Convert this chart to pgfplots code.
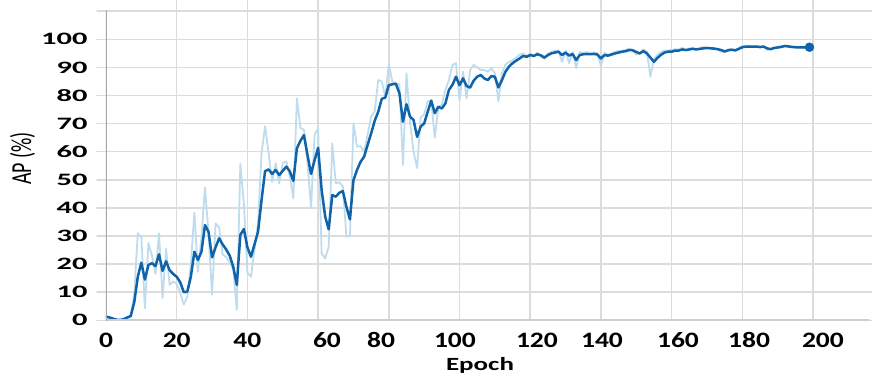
\documentclass[border=0pt]{standalone}
\usepackage{fontspec}
\setmainfont{Carlito}
\newfontfamily\yfont{Carlito}[FakeStretch=1.75]
\newfontfamily\xfont{Carlito}[FakeStretch=1.25]
\newfontfamily\lfont{Carlito}[FakeStretch=1.45]
\usepackage{graphicx}
\usepackage{pgfplots}
\pgfplotsset{compat=1.18}

\definecolor{rawblue}{HTML}{BFDCEF}
\definecolor{smblue}{HTML}{1063A8}
\definecolor{gridgray}{HTML}{DCDCDC}
\definecolor{axisgray}{HTML}{A6A6A6}
\definecolor{basegray}{HTML}{CFCFCF}

\begin{document}
\begin{tikzpicture}
\useasboundingbox (-106pt,-57.7pt) rectangle (766pt,320.3pt);
\begin{axis}[
  at={(0,0)}, anchor=south west,
  scale only axis, width=763.6pt, height=320.3pt,
  xmin=0, xmax=216, ymin=0, ymax=114,
  axis line style={draw=none},
  /pgf/number format/assume math mode=true,
  ytick={0,10,20,30,40,50,60,70,80,90,100,110},
  yticklabels={0,10,20,30,40,50,60,70,80,90,100,{}},
  xtick={0,20,40,62.5,77.8,98.7,121.9,140.3,161.8,181.9,202.8},
  xticklabels={0,20,40,60,80,100,120,140,160,180,200},
  extra x ticks={20,40,60,80,100,120,140,160,180,200},
  extra x tick labels={},
  extra x tick style={grid=major, xtick style={draw=none}},
  ymajorgrids, xmajorgrids=false,
  major grid style={draw=gridgray, line width=1.5pt},
  tick align=outside, major tick length=9pt,
  ytick style={draw=gridgray, line width=1.5pt},
  xtick style={draw=none},
  yticklabel style={font=\yfont\bfseries\fontsize{17.4}{18}\selectfont, text=black, anchor=east, xshift=-6pt},
  xticklabel style={font=\xfont\bfseries\fontsize{22}{24}\selectfont, text=black, anchor=base, yshift=-18pt},
  xlabel={Epoch},
  xlabel style={font=\lfont\bfseries\fontsize{18.6}{20}\selectfont, text=black,
    at={(axis description cs:0.4898,-0.158)}, anchor=base},
  ylabel={\scalebox{1}[1.45]{AP (\%)}},
  ylabel style={font=\fontsize{20}{22}\selectfont, text=black,
    at={(axis description cs:-0.1094,0.505)}, anchor=center, rotate=0},
  line join=round, line cap=round,
]
% raw per-epoch AP
\addplot[rawblue, line width=1.8pt] coordinates {
(0,1.3)(1,1.0)(2,0.5)(3,0.1)(4,0.0)(5,0.3)(6,1.0)(7,1.5)(8,9.7)(9,31.0)
(10,29.5)(11,4.3)(12,27.5)(13,23.0)(14,16.5)(15,31.0)(16,7.9)(17,25.5)(18,12.6)(19,13.9)
(20,13.0)(21,9.7)(22,5.6)(23,8.4)(24,20.0)(25,38.3)(26,17.3)(27,29.6)(28,47.3)(29,31.0)
(30,9.1)(31,34.5)(32,33.0)(33,23.4)(34,22.5)(35,20.5)(36,18.1)(37,3.7)(38,55.6)(39,41.6)
(40,17.0)(41,15.5)(42,25.0)(43,34.7)(44,59.4)(45,69.1)(46,59.4)(47,49.2)(48,55.9)(49,48.7)
(50,56.0)(51,56.6)(52,51.2)(53,43.4)(54,79.0)(55,68.4)(56,67.8)(57,56.0)(58,39.9)(59,66.0)
(60,68.4)(61,23.8)(62,22.0)(63,26.2)(64,63.0)(65,48.8)(66,49.1)(67,47.6)(68,29.8)(69,30.0)
(70,70.1)(71,61.8)(72,62.0)(73,60.0)(74,66.0)(75,72.5)(76,74.3)(77,85.5)(78,85.0)(79,79.6)
(80,91.2)(81,85.0)(82,84.3)(83,84.0)(84,55.3)(85,87.9)(86,70.6)(87,60.0)(88,54.2)(89,72.1)
(90,73.3)(91,78.0)(92,78.0)(93,65.0)(94,75.7)(95,76.9)(96,82.0)(97,85.5)(98,90.9)(99,91.5)
(100,78.3)(101,88.5)(102,79.0)(103,89.1)(104,90.9)(105,90.0)(106,89.1)(107,89.1)(108,88.5)(109,89.7)
(110,88.0)(111,77.9)(112,88.0)(113,91.0)(114,92.0)(115,92.5)(116,93.5)(117,94.5)(118,95.0)(119,94.0)
(120,95.0)(121,94.0)(122,95.2)(123,94.0)(124,93.0)(125,95.0)(126,95.5)(127,96.0)(128,96.0)(129,92.0)
(130,96.0)(131,91.5)(132,95.5)(133,89.7)(134,95.5)(135,95.0)(136,95.5)(137,95.0)(138,95.3)(139,95.0)
(140,90.5)(141,95.3)(142,94.5)(143,95.0)(144,95.5)(145,95.8)(146,96.0)(147,96.2)(148,96.8)(149,96.0)
(150,94.5)(151,95.0)(152,96.5)(153,95.5)(154,86.7)(155,93.0)(156,94.5)(157,95.5)(158,96.0)(159,96.0)
(160,96.2)(161,96.5)(162,96.3)(163,97.0)(164,96.0)(165,96.8)(166,97.0)(167,96.5)(168,97.0)(169,97.2)
(170,97.2)(171,96.8)(172,97.0)(173,96.3)(174,95.6)(175,95.5)(176,96.5)(177,96.5)(178,95.8)(179,97.0)
(180,97.6)(181,97.5)(182,97.6)(183,97.3)(184,97.6)(185,97.0)(186,97.6)(187,96.3)(188,96.5)(189,97.2)
(190,97.3)(191,97.5)(192,97.8)(193,97.3)(194,97.2)(195,97.0)(196,97.2)(197,97.0)(198,97.1)(199,97.2)
};
% smoothed AP
\addplot[smblue, line width=2.5pt] coordinates {
(0,1.3)(1,1.0)(2,0.6)(3,0.2)(4,0.1)(5,0.4)(6,1.0)(7,1.5)(8,6.5)(9,15.5)
(10,20.5)(11,14.5)(12,19.7)(13,20.3)(14,19.3)(15,23.5)(16,17.6)(17,21.0)(18,17.8)(19,16.5)
(20,15.5)(21,13.5)(22,10.0)(23,10.2)(24,15.5)(25,24.4)(26,21.5)(27,24.4)(28,33.9)(29,31.5)
(30,22.4)(31,26.0)(32,29.2)(33,27.0)(34,25.2)(35,23.0)(36,19.0)(37,12.6)(38,30.4)(39,32.5)
(40,26.0)(41,22.6)(42,27.0)(43,31.5)(44,42.8)(45,53.1)(46,53.7)(47,52.1)(48,53.5)(49,51.7)
(50,53.2)(51,54.7)(52,53.0)(53,49.6)(54,61.2)(55,63.9)(56,65.9)(57,58.8)(58,52.1)(59,57.0)
(60,61.4)(61,46.4)(62,36.9)(63,32.4)(64,44.6)(65,44.0)(66,45.4)(67,46.0)(68,40.4)(69,35.9)
(70,49.9)(71,53.5)(72,56.4)(73,58.2)(74,62.4)(75,66.5)(76,71.0)(77,74.2)(78,78.8)(79,79.3)
(80,83.7)(81,84.0)(82,84.2)(83,80.8)(84,70.7)(85,76.9)(86,72.5)(87,71.3)(88,65.3)(89,68.9)
(90,70.1)(91,74.2)(92,78.2)(93,73.7)(94,76.0)(95,75.4)(96,77.2)(97,82.0)(98,83.8)(99,86.7)
(100,83.7)(101,86.1)(102,83.4)(103,82.8)(104,85.3)(105,86.7)(106,87.3)(107,86.1)(108,85.5)(109,86.9)
(110,86.7)(111,82.9)(112,85.5)(113,88.5)(114,90.3)(115,91.5)(116,92.4)(117,93.2)(118,94.1)(119,93.8)
(120,94.4)(121,94.1)(122,94.7)(123,94.3)(124,93.5)(125,94.4)(126,95.0)(127,95.3)(128,95.6)(129,94.4)
(130,95.3)(131,94.2)(132,94.8)(133,92.6)(134,94.4)(135,94.7)(136,94.7)(137,94.7)(138,94.8)(139,94.6)
(140,93.2)(141,94.4)(142,94.2)(143,94.6)(144,95.0)(145,95.3)(146,95.6)(147,95.8)(148,96.2)(149,96.1)
(150,95.5)(151,95.0)(152,95.8)(153,95.0)(154,93.5)(155,92.0)(156,93.4)(157,94.5)(158,95.3)(159,95.6)
(160,95.6)(161,96.0)(162,96.0)(163,96.4)(164,96.2)(165,96.4)(166,96.6)(167,96.4)(168,96.6)(169,96.8)
(170,96.9)(171,96.8)(172,96.7)(173,96.5)(174,96.2)(175,95.7)(176,96.1)(177,96.3)(178,96.1)(179,96.6)
(180,97.2)(181,97.4)(182,97.4)(183,97.4)(184,97.4)(185,97.3)(186,97.4)(187,96.8)(188,96.5)(189,96.9)
(190,97.1)(191,97.3)(192,97.6)(193,97.5)(194,97.3)(195,97.2)(196,97.1)(197,97.1)(198,97.1)(199,97.2)
};
% last epoch
\addplot[only marks, mark=*, mark size=4.5pt, smblue] coordinates {(199,97.2)};
% axis lines
\draw[basegray, line width=2pt] (axis cs:0,0) -- (axis cs:216,0);
\draw[axisgray, line width=2pt] (axis cs:0,0) -- (axis cs:0,110);
\end{axis}
\end{tikzpicture}
\end{document}
